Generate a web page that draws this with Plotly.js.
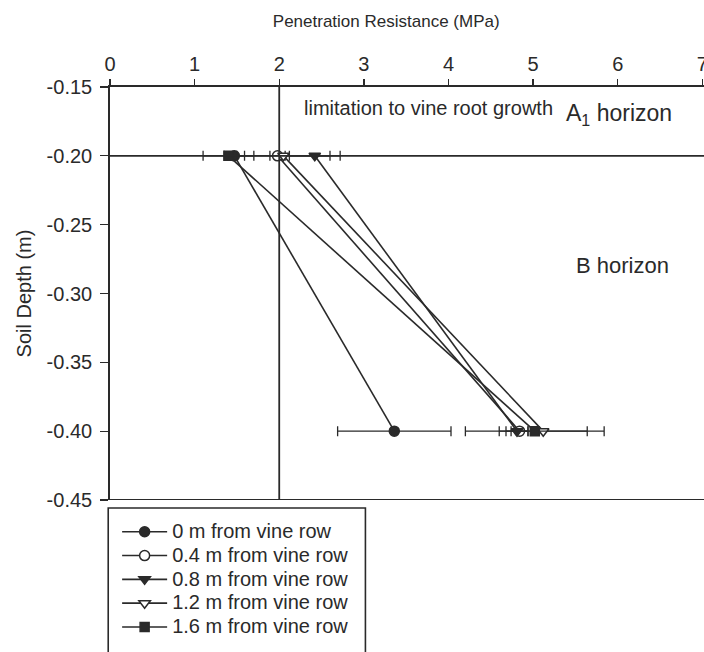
<!DOCTYPE html>
<html>
<head>
<meta charset="utf-8">
<script src="https://cdn.plot.ly/plotly-3.0.1.min.js"></script>
<style>
  html, body { margin: 0; padding: 0; background: #fff; }
  #chart { width: 704px; height: 652px; }
</style>
</head>
<body>
<div id="chart"></div>
<script>
// Soil depths sampled (m)
const depths = [-0.20, -0.40];

// Distance from the vine row for each profile
const seriesNames = [
  '0 m from vine row',
  '0.4 m from vine row',
  '0.8 m from vine row',
  '1.2 m from vine row',
  '1.6 m from vine row'
];

// Mean penetration resistance (MPa) at each depth
const pr0m  = [1.47, 3.36];
const pr04m = [1.98, 4.84];
const pr08m = [2.42, 4.81];
const pr12m = [2.05, 5.12];
const pr16m = [1.40, 5.02];

// Error (MPa) at each depth
const err0m  = [0.12, 0.67];
const err04m = [0.09, 0.10];
const err08m = [0.30, 0.13];
const err12m = [0.55, 0.52];
const err16m = [0.30, 0.82];

// Axis ticks
const xTickVals = [0, 1, 2, 3, 4, 5, 6, 7];
const yTickVals = [-0.45, -0.40, -0.35, -0.30, -0.25, -0.20, -0.15];
const yTickText = ['-0.45', '-0.40', '-0.35', '-0.30', '-0.25', '-0.20', '-0.15'];

// Reference lines
const rootLimit = 2;           // MPa limit to root growth
const horizonBoundary = -0.20; // A1 / B horizon boundary (m)

const ink = '#2a2a2a';
const font = 'Arial, "Liberation Sans", sans-serif';

const values = [pr0m, pr04m, pr08m, pr12m, pr16m];
const errors = [err0m, err04m, err08m, err12m, err16m];
const symbols = ['circle', 'circle', 'triangle-down', 'triangle-down', 'square'];
const hollow = [false, true, false, true, false];
const sizes = [10, 10, 10, 10, 9];

const traces = values.map((v, i) => ({
  type: 'scatter',
  mode: 'lines+markers',
  // larger label text; entry spacing follows legend.font.size
  name: '<span style="font-size:20px">' + seriesNames[i] + '</span>',
  x: v,
  y: depths,
  line: { color: ink, width: 1.6 },
  marker: {
    symbol: symbols[i],
    size: sizes[i],
    color: hollow[i] ? '#ffffff' : ink,
    line: { color: ink, width: 1.5 }
  },
  error_x: {
    type: 'data',
    array: errors[i],
    visible: true,
    color: ink,
    thickness: 1.3,
    width: 5
  },
  cliponaxis: false
}));

const layout = {
  width: 704,
  height: 652,
  margin: { l: 110, r: 0, t: 87, b: 152 },
  paper_bgcolor: '#ffffff',
  plot_bgcolor: '#ffffff',
  font: { family: font, color: ink, size: 16 },
  showlegend: true,
  title: {
    text: 'Penetration Resistance (MPa)',
    xref: 'paper', x: 0.465, xanchor: 'center',
    yref: 'container', y: 0.968, yanchor: 'middle',
    font: { family: font, size: 17, color: ink }
  },
  legend: {
    x: 0.012, xanchor: 'left',
    y: -0.036, yanchor: 'top',
    bgcolor: 'rgba(0,0,0,0)',
    borderwidth: 0,
    font: { family: font, size: 16, color: ink },
    itemwidth: 45,
    tracegroupgap: 0
  },
  xaxis: {
    side: 'top',
    range: [0, 7.02],
    tickvals: xTickVals,
    ticks: 'outside',
    ticklen: 6,
    tickwidth: 1.3,
    tickcolor: ink,
    ticklabeloverflow: 'allow',
    showline: true,
    linecolor: ink,
    linewidth: 1.8,
    showgrid: false,
    zeroline: false,
    tickfont: { family: font, size: 20, color: ink }
  },
  yaxis: {
    range: [-0.45, -0.15],
    tickvals: yTickVals,
    ticktext: yTickText,
    ticks: 'outside',
    ticklen: 8,
    tickwidth: 1.3,
    tickcolor: ink,
    ticklabelstandoff: 4,
    showline: true,
    linecolor: ink,
    linewidth: 1.8,
    showgrid: false,
    zeroline: false,
    tickfont: { family: font, size: 20, color: ink },
    title: {
      text: 'Soil Depth (m)',
      font: { family: font, size: 20, color: ink },
      standoff: 10
    }
  },
  shapes: [
    // bottom frame line
    { type: 'line', xref: 'paper', yref: 'y', x0: 0, x1: 1, y0: -0.45, y1: -0.45,
      line: { color: ink, width: 1.8 } },
    // horizon boundary
    { type: 'line', xref: 'paper', yref: 'y', x0: 0, x1: 1, y0: horizonBoundary, y1: horizonBoundary,
      line: { color: ink, width: 1.8 } },
    // root growth limit
    { type: 'line', xref: 'x', yref: 'y', x0: rootLimit, x1: rootLimit, y0: -0.45, y1: -0.15,
      line: { color: ink, width: 1.8 } },
    // legend box
    { type: 'rect', xref: 'paper', yref: 'paper',
      x0: -0.003, x1: 0.43, y0: -0.0194, y1: -0.38,
      line: { color: ink, width: 1.6 }, fillcolor: 'rgba(0,0,0,0)' }
  ],
  annotations: [
    { xref: 'x', yref: 'y', x: 2.27, y: -0.1653, xanchor: 'left', yanchor: 'middle',
      text: 'limitation to vine root growth', showarrow: false,
      font: { family: font, size: 20, color: ink } },
    { xref: 'x', yref: 'y', x: 5.36, y: -0.1703, xanchor: 'left', yanchor: 'middle',
      text: 'A<sub>1</sub> horizon', showarrow: false,
      font: { family: font, size: 23, color: ink } },
    { xref: 'x', yref: 'y', x: 5.48, y: -0.2793, xanchor: 'left', yanchor: 'middle',
      text: 'B horizon', showarrow: false,
      font: { family: font, size: 22, color: ink } }
  ]
};

Plotly.newPlot('chart', traces, layout, { displayModeBar: false, staticPlot: true });
</script>
</body>
</html>
